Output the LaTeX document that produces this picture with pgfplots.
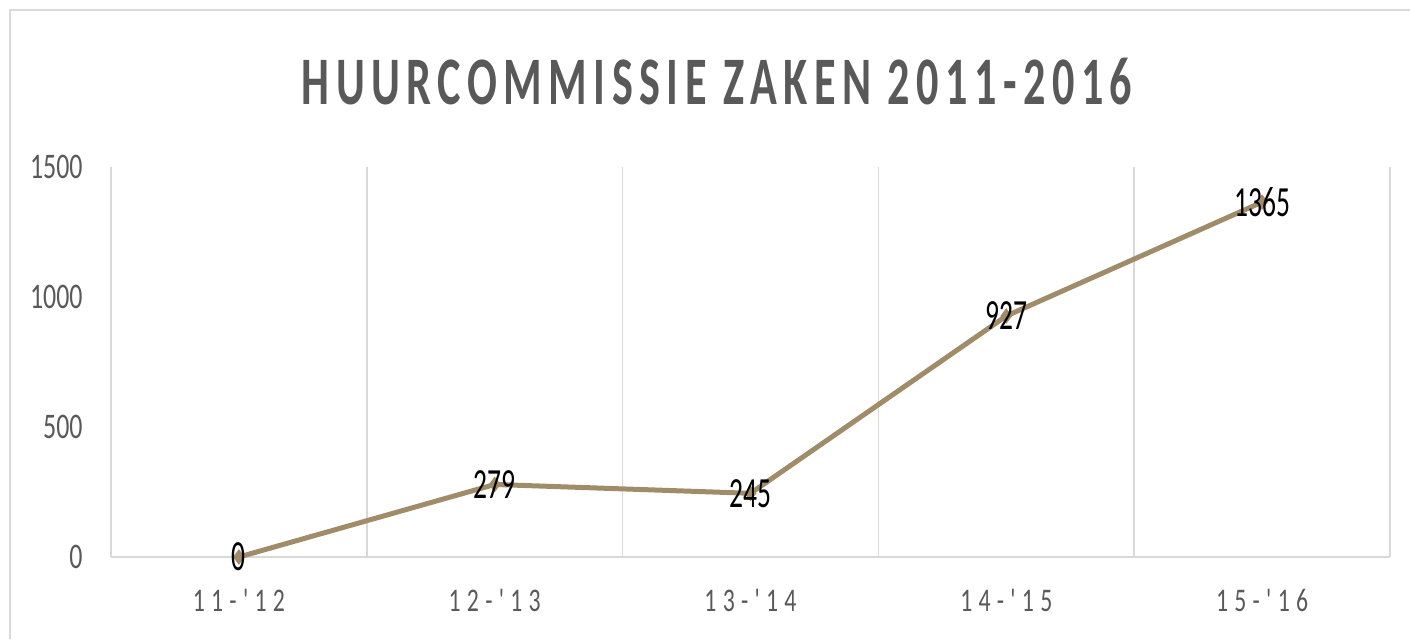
\documentclass[border=0pt]{standalone}
\usepackage{pgfplots}
\pgfplotsset{compat=1.18}
\usepackage{fontspec}
\setmainfont{Carlito}
\newfontfamily\tickfont[FakeStretch=0.72]{Carlito}
\newfontfamily\xtickfont[FakeStretch=0.72,LetterSpace=19]{Carlito}
\newfontfamily\labfont[FakeStretch=0.64]{Carlito}
\newfontfamily\titlefont[FakeStretch=0.65,LetterSpace=9.5]{Carlito}
\definecolor{tan}{HTML}{A08C69}
\definecolor{txtgray}{HTML}{595959}
\definecolor{gridgray}{HTML}{D9D9D9}
\begin{document}
\begin{tikzpicture}[x=1pt,y=1pt]
\path[use as bounding box] (0,0) rectangle (705,319.5);
\draw[gridgray,line width=1pt] (5,0) -- (5,314.5) -- (705,314.5);
\node[text=txtgray,inner sep=0pt] at (358.5,278.5) {\titlefont\bfseries\fontsize{34}{36}\selectfont HUURCOMMISSIE ZAKEN 2011-2016};
\begin{axis}[
  at={(55.5pt,41pt)}, anchor=south west,
  scale only axis, width=639.5pt, height=195pt,
  xmin=-0.5, xmax=4.5, ymin=0, ymax=1500,
  axis line style={draw=none},
  xtick={0,1,2,3,4},
  xticklabels={11-'12,12-'13,13-'14,14-'15,15-'16},
  ytick={0,500,1000,1500},
  tick style={draw=none},
  xticklabel style={text=txtgray, font=\xtickfont\fontsize{16.5}{18}\selectfont, anchor=north, inner sep=0pt, yshift=-16pt},
  yticklabel style={text=txtgray, font=\tickfont\fontsize{18}{20}\selectfont, anchor=east, inner sep=0pt, xshift=-14pt},
  /pgf/number format/assume math mode=true,
  /pgf/number format/set thousands separator={},
  clip=false,
]
\pgfplotsinvokeforeach{-0.5,0.5,1.5,2.5,3.5,4.5}{
  \draw[gridgray,line width=0.8pt] (axis cs:#1,0) -- (axis cs:#1,1500);
}
\draw[gridgray,line width=1pt] (axis cs:-0.5,0) -- (axis cs:4.5,0);
\addplot[color=tan, line width=2.5pt, mark=diamond*, mark size=3.5pt,
  mark options={fill=tan,draw=tan,line width=0.5pt},
  nodes near coords,
  nodes near coords style={anchor=center, text=black, font=\labfont\fontsize{21.5}{23}\selectfont, inner sep=0pt},
  nodes near coords align=center,
] coordinates {(0,0) (1,279) (2,245) (3,927) (4,1365)};
\end{axis}
\end{tikzpicture}
\end{document}
